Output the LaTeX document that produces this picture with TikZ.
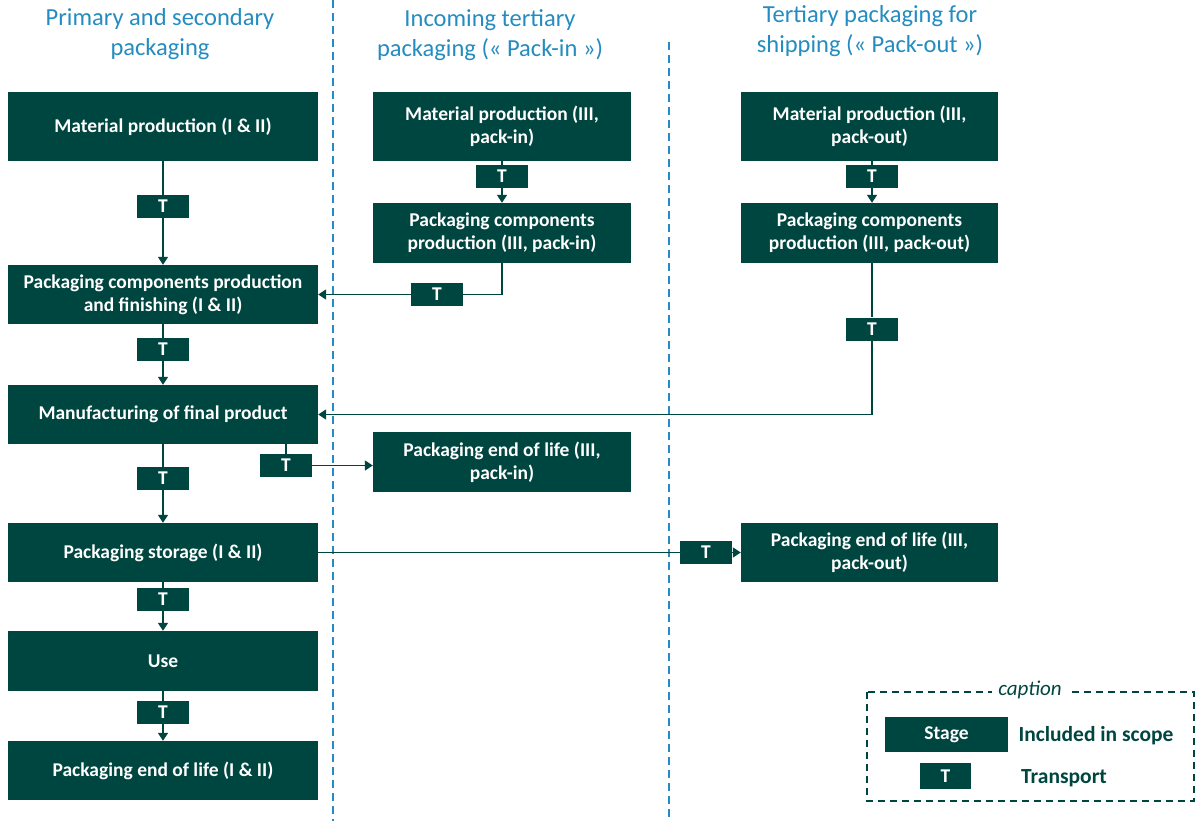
\documentclass[tikz,border=0pt]{standalone}
\usepackage{fontspec}
\setmainfont{Carlito}
\usetikzlibrary{arrows.meta}
\definecolor{dg}{RGB}{0,70,64}
\definecolor{tblue}{RGB}{36,140,192}
\definecolor{dblue}{RGB}{40,138,196}
\begin{document}
\begin{tikzpicture}[x=1pt,y=-1pt,
  stage/.style={fill=dg,text=white,font=\bfseries\fontsize{19.5}{23}\selectfont,inner sep=0pt,align=center,minimum width=#1},
  tbox/.style={fill=dg,text=white,font=\bfseries\fontsize{19.5}{22}\selectfont,inner sep=0pt,minimum width=52pt,minimum height=23pt},
  title/.style={text=tblue,font=\fontsize{24.5}{30}\selectfont,align=center},
  conn/.style={draw=dg,line width=1.5pt},
  arr/.style={conn,-{Triangle[length=8pt,width=10pt]}},
  sep/.style={draw=dblue,line width=1.6pt,dash pattern=on 8pt off 5pt}]
\useasboundingbox (0,0) rectangle (1197,821);
% separators
\draw[sep] (333,0) -- (333,821);
\draw[sep] (669,42) -- (669,821);
% titles
\node[title] (h1) at (160,34) {Primary and secondary\\packaging};
\node[title] (h2) at (490,35) {Incoming tertiary\\packaging (« Pack-in »)};
\node[title] (h3) at (870,31) {Tertiary packaging for\\shipping (« Pack-out »)};
% left column
\node[stage=310pt,minimum height=69pt] (m1) at (163,126.5) {Material production (I \& II)};
\node[tbox] (tt1) at (163,206.5) {T};
\node[stage=310pt,minimum height=59pt] (pc1) at (163,294.5) {Packaging components production\\and finishing (I \& II)};
\node[tbox] (tt2) at (163,349.5) {T};
\node[stage=310pt,minimum height=59pt] (mf) at (163,414.5) {Manufacturing of final product};
\node[tbox] (tt3) at (163,478.5) {T};
\node[stage=310pt,minimum height=59pt] (ps) at (163,552.5) {Packaging storage (I \& II)};
\node[tbox] (tt4) at (163,599.5) {T};
\node[stage=310pt,minimum height=60pt] (use) at (163,661) {Use};
\node[tbox] (tt5) at (163,712.5) {T};
\node[stage=310pt,minimum height=59pt] (eol) at (163,770.5) {Packaging end of life (I \& II)};
% middle column
\node[stage=258pt,minimum height=69pt] (mi) at (502,126.5) {Material production (III,\\pack-in)};
\node[tbox] (tmi) at (502,176.5) {T};
\node[stage=258pt,minimum height=60pt] (pci) at (502,233) {Packaging components\\production (III, pack-in)};
\node[tbox] (ti2) at (437,294.5) {T};
\node[stage=258pt,minimum height=60pt] (eoli) at (502,462) {Packaging end of life (III,\\pack-in)};
\node[tbox] (ti3) at (286,465.5) {T};
% right column
\node[stage=257pt,minimum height=69pt] (mo) at (869.5,126.5) {Material production (III,\\pack-out)};
\node[tbox] (tmo) at (872,176.5) {T};
\node[stage=257pt,minimum height=60pt] (pco) at (869.5,233) {Packaging components\\production (III, pack-out)};
\node[tbox] (to2) at (872,329) {T};
\node[stage=257pt,minimum height=59pt] (eolo) at (869.5,552.5) {Packaging end of life (III,\\pack-out)};
\node[tbox] (to3) at (706,552.5) {T};
% left connectors
\draw[conn] (m1.south) -- (tt1.north);
\draw[arr] (tt1.south) -- (pc1.north);
\draw[conn] (pc1.south) -- (tt2.north);
\draw[arr] (tt2.south) -- (mf.north);
\draw[conn] (mf.south) -- (tt3.north);
\draw[arr] (tt3.south) -- (ps.north);
\draw[conn] (ps.south) -- (tt4.north);
\draw[arr] (tt4.south) -- (use.north);
\draw[conn] (use.south) -- (tt5.north);
\draw[arr] (tt5.south) -- (eol.north);
% middle connectors
\draw[conn] (mi.south) -- (tmi.north);
\draw[arr] (tmi.south) -- (pci.north);
\draw[conn] (pci.south) |- (ti2.east);
\draw[arr] (ti2.west) -- (pc1.east |- ti2.west);
\draw[conn] (mf.south -| ti3.north) -- (ti3.north);
\draw[arr] (ti3.east) -- (eoli.west |- ti3.east);
% right connectors
\draw[conn] (mo.south -| tmo.north) -- (tmo.north);
\draw[arr] (tmo.south) -- (pco.north -| tmo.south);
\draw[conn] (pco.south -| to2.north) -- (to2.north);
\draw[arr] (to2.south) |- (mf.east);
\draw[conn] (ps.east) -- (to3.west);
\draw[arr] (to3.east) -- (eolo.west);
% caption
\draw[draw=dg,line width=1.5pt,dash pattern=on 7pt off 5pt] (867,692) rectangle (1194,801);
\node[fill=white,text=dg,font=\itshape\fontsize{21}{24}\selectfont,inner xsep=6pt,inner ysep=1pt] (cap) at (1030,690) {caption};
\node[stage=123pt,minimum height=35pt] (cs) at (946.5,734.5) {Stage};
\node[tbox,minimum width=51pt,minimum height=26pt] (ct) at (945.5,776) {T};
\node[text=dg,font=\bfseries\fontsize{21.5}{24}\selectfont] (cl1) at (1096,736) {Included in scope};
\node[text=dg,font=\bfseries\fontsize{21.5}{24}\selectfont] (cl2) at (1064,778) {Transport};
\end{tikzpicture}
\end{document}
